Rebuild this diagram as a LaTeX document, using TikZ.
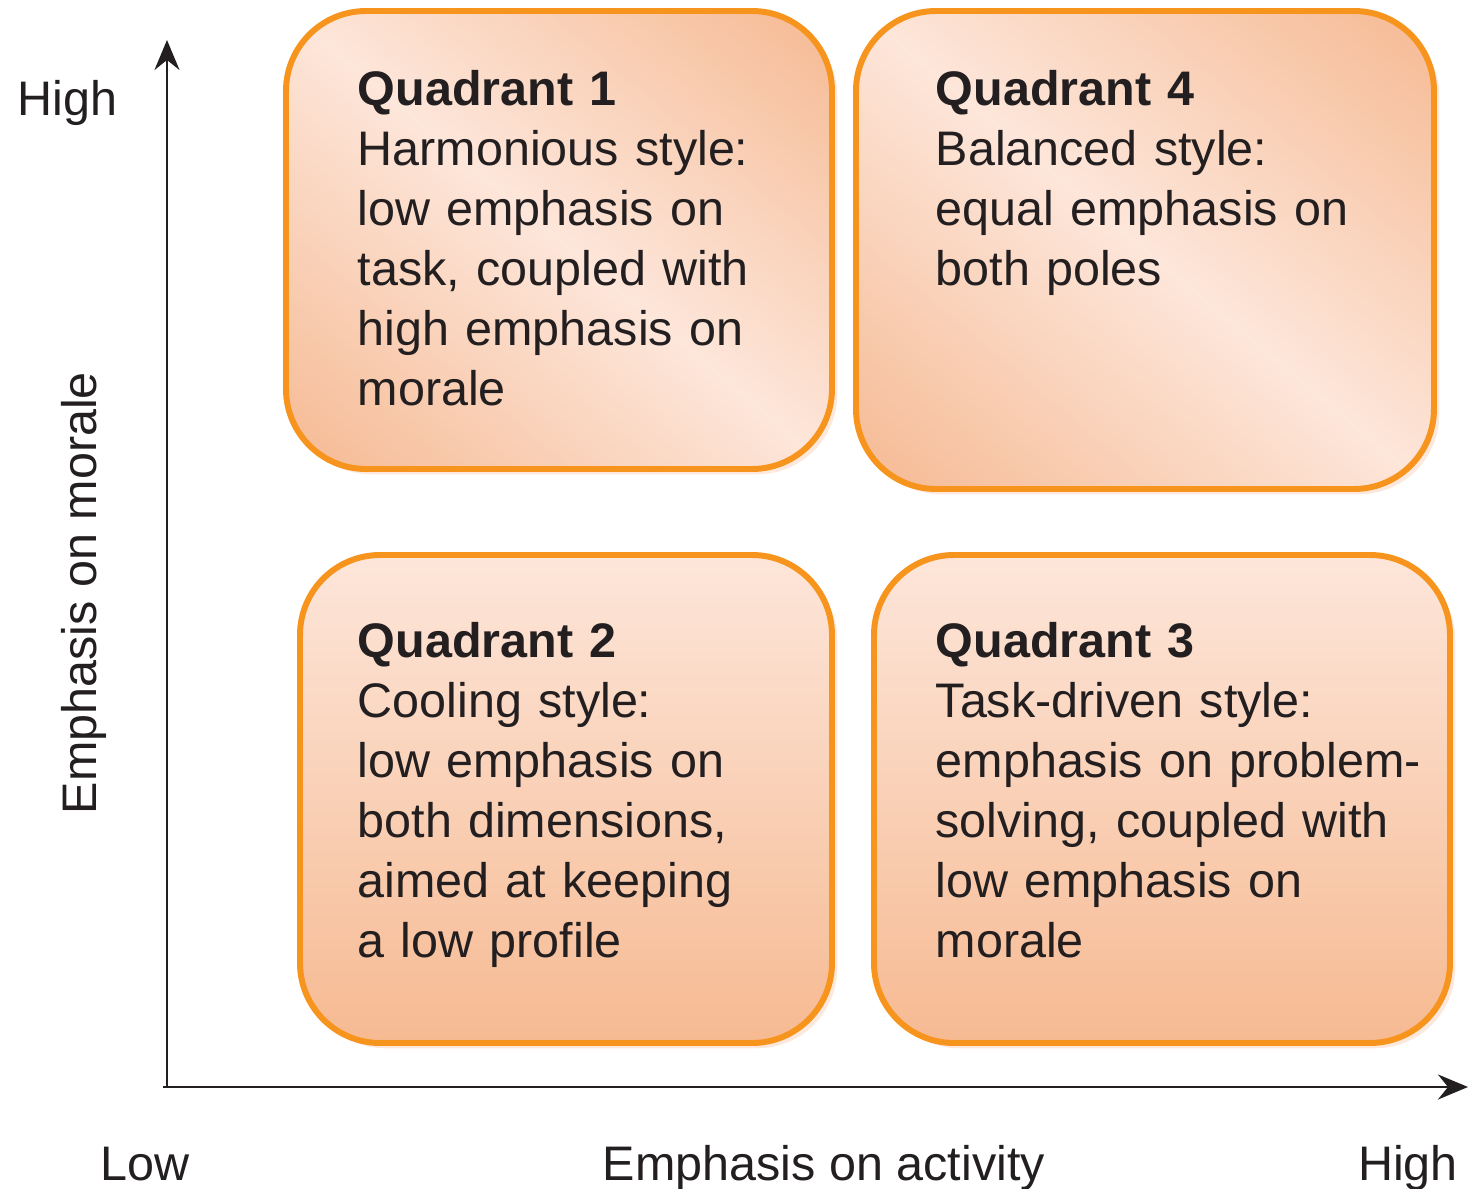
\documentclass[tikz,border=0pt]{standalone}
\usepackage{fontspec}
\setmainfont{Liberation Sans}
\usetikzlibrary{arrows.meta,shadows}
\usetikzlibrary{positioning}
\definecolor{qline}{RGB}{247,148,29}
\definecolor{qlight}{RGB}{253,230,218}
\definecolor{qdark}{RGB}{246,186,146}
\definecolor{qdeep}{RGB}{245,182,141}
\definecolor{qhalo}{RGB}{253,232,222}
\definecolor{ink}{RGB}{35,31,32}
\pgfdeclareverticalshading{quaddiag}{100bp}{color(0bp)=(qdeep); color(12bp)=(qdeep); color(50bp)=(qlight); color(88bp)=(qdeep); color(100bp)=(qdeep)}
\tikzstyle{quad} = [rectangle, rounded corners=0.8cm, draw=qline, line width=1.7pt, drop shadow={shadow xshift=1.5pt, shadow yshift=-1.5pt, fill=qhalo, opacity=1}]
\tikzstyle{diag} = [quad, shading=quaddiag, shading angle=-40]
\tikzstyle{vert} = [quad, top color=qlight, bottom color=qdark]
\tikzstyle{body} = [anchor=north west, inner sep=0pt, text width=5.3cm, align=left, text=ink, font=\fontsize{13.8}{17.07}\selectfont]
\tikzstyle{axlabel} = [inner sep=0pt, text=ink, font=\fontsize{13.8}{17.07}\selectfont]

\begin{document}
\begin{tikzpicture}
\useasboundingbox (0,0) rectangle (14.68,11.88);

 \node (q1) [diag, minimum width=5.46cm, minimum height=4.58cm] at (5.59,9.48) {};
 \node (q4) [diag, minimum width=5.78cm, minimum height=4.78cm] at (11.45,9.38) {};
 \node (q2) [vert, minimum width=5.32cm, minimum height=4.88cm] at (5.66,3.89) {};
 \node (q3) [vert, minimum width=5.76cm, minimum height=4.88cm] at (11.62,3.89) {};

 \node (t1) [body] at (3.57,11.18) {\textbf{Quadrant 1}\\Harmonious style:\\low emphasis on\\task, coupled with\\high emphasis on\\morale};
 \node (t4) [body] at (9.35,11.18) {\textbf{Quadrant 4}\\Balanced style:\\equal emphasis on\\both poles};
 \node (t2) [body] at (3.57,5.66) {\textbf{Quadrant 2}\\Cooling style:\\low emphasis on\\both dimensions,\\aimed at keeping\\a low profile};
 \node (t3) [body] at (9.35,5.66) {\textbf{Quadrant 3}\\Task-driven style:\\emphasis on problem-\\solving, coupled with\\low emphasis on\\morale};

 \coordinate (origin) at (1.67,1.01);
 \coordinate (ytop) at (1.67,11.48);
 \coordinate (xstart) at (1.63,1.01);
 \coordinate (xend) at (14.68,1.01);
 \draw [ink, line width=0.85pt, -{Stealth[length=0.3cm, width=0.25cm, inset=0.1cm]}] (origin) -- (ytop);
 \draw [ink, line width=0.85pt, -{Stealth[length=0.3cm, width=0.25cm, inset=0.1cm]}] (xstart) -- (xend);

 \node (yhigh) [axlabel, anchor=base west] at (0.17,10.73) {High};
 \node (ylabel) [axlabel, rotate=90] at (0.84,5.95) {Emphasis on morale};
 \node (xlow) [axlabel, anchor=base] at (1.45,0.08) {Low};
 \node (xlabel) [axlabel, anchor=base] at (8.24,0.08) {Emphasis on activity};
 \node (xhigh) [axlabel, anchor=base] at (14.08,0.08) {High};
\end{tikzpicture}
\end{document}
